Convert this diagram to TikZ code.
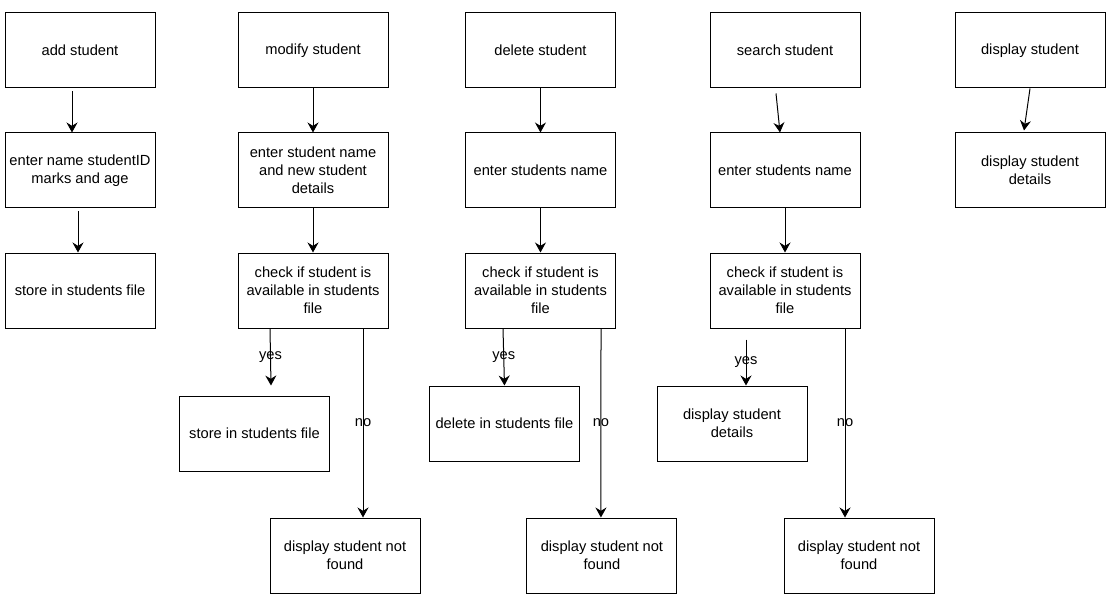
\documentclass[tikz,border=0pt]{standalone}
\usepackage{fontspec}
\setmainfont{Liberation Sans}
\usetikzlibrary{arrows.meta}

\begin{document}
\begin{tikzpicture}[x=0.75pt, y=-0.75pt, >={Stealth[length=7.5pt, width=8.25pt, inset=2.5pt]}, line width=0.75pt, node distance=90pt,
    box/.style={draw, rectangle, minimum width=112.5pt, minimum height=56.25pt, align=center, inner sep=1pt, font=\fontsize{11}{13.5}\selectfont},
    lbl/.style={font=\fontsize{11}{13.5}\selectfont, inner sep=0pt}]
    \useasboundingbox (0,0) rectangle (1110,606);

    \node[box] (add) at (80,50.5) {add student};
    \node[box, below of=add] (addin) {enter name studentID\\marks and age};
    \node[box, below of=addin] (addst) {store in students file};

    \node[box, right of=add, node distance=174.75pt] (mod) {modify student};
    \node[box, below of=mod] (modin) {enter student name\\and new student\\details};
    \node[box, below of=modin] (modchk) {check if student is\\available in students\\file};
    \node[box, below of=modchk, node distance=107.25pt, xshift=-43.9pt] (modyes) {store in students file};
    \node[box, below of=modchk, node distance=198.75pt, xshift=24pt] (modnf) {display student not\\found};

    \node[box, right of=mod, node distance=170.6pt] (del) {delete student};
    \node[box, below of=del] (delin) {enter students name};
    \node[box, below of=delin] (delchk) {check if student is\\available in students\\file};
    \node[box, below of=delchk, node distance=99.75pt, xshift=-27pt] (delyes) {delete in students file};
    \node[box, below of=delchk, node distance=198.75pt, xshift=46.1pt] (delnf) {display student not\\found};

    \node[box, right of=del, node distance=183.4pt] (srch) {search student};
    \node[box, below of=srch] (srchin) {enter students name};
    \node[box, below of=srchin] (srchchk) {check if student is\\available in students\\file};
    \node[box, below of=srchchk, node distance=99.75pt, xshift=-39.75pt] (srchyes) {display student\\details};
    \node[box, below of=srchchk, node distance=198.75pt, xshift=55.5pt] (srchnf) {display student not\\found};

    \node[box, right of=srch, node distance=183.75pt] (disp) {display student};
    \node[box, below of=disp] (dispdet) {display student\\details};

    % add
    \draw[->] ([xshift=-6pt, yshift=-2.25pt]add.south) -- ([xshift=-6pt]addin.north);
    \draw[->] ([xshift=-1.5pt, yshift=-2.25pt]addin.south) -- ([xshift=-1.5pt]addst.north);

    % modify
    \draw[->] (mod) -- (modin);
    \draw[->] (modin) -- (modchk);
    \draw[->] ([xshift=-32.25pt]modchk.south) -- node[lbl] {yes} ([xshift=12.4pt, yshift=7.5pt]modyes.north);
    \draw[->] ([xshift=37.5pt]modchk.south) -- node[lbl] {no} ([xshift=13.5pt]modnf.north);

    % delete
    \draw[->] (del) -- (delin);
    \draw[->] (delin) -- (delchk);
    \draw[->] ([xshift=-28.1pt]delchk.south) -- node[lbl] {yes} (delyes.north);
    \draw[->] ([xshift=45.4pt]delchk.south) -- node[lbl] {no} ([xshift=-0.75pt]delnf.north);

    % search
    \draw[->] ([xshift=-6.75pt, yshift=-3.75pt]srch.south) -- ([xshift=-3.75pt]srchin.north);
    \draw[->] (srchin) -- (srchchk);
    \draw[->] ([xshift=-29.25pt, yshift=-8.25pt]srchchk.south) -- node[lbl] {yes} ([xshift=10.5pt]srchyes.north);
    \draw[->] ([xshift=45pt]srchchk.south) -- node[lbl] {no} ([xshift=-10.5pt]srchnf.north);

    % display
    \draw[->] (disp.south) -- ([xshift=-4.5pt, yshift=1.5pt]dispdet.north);
\end{tikzpicture}
\end{document}
